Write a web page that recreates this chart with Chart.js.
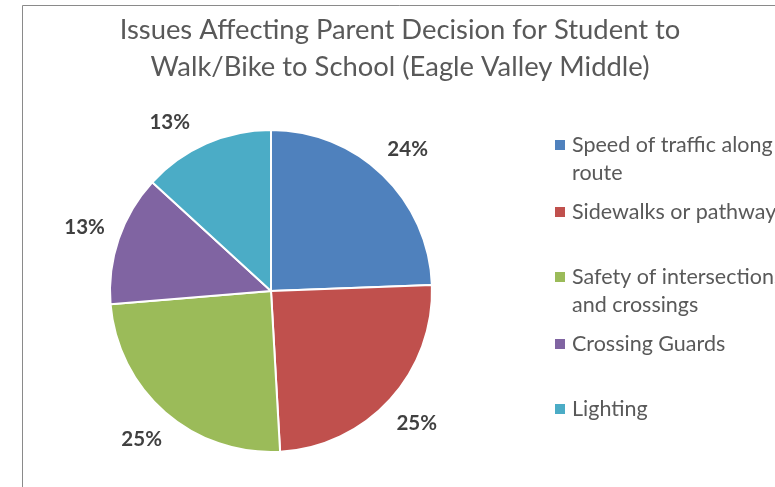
<!DOCTYPE html>
<html>
<head>
<meta charset="utf-8">
<script src="https://cdn.jsdelivr.net/npm/chart.js@4.4.1/dist/chart.umd.min.js"></script>
<style>
  html, body { margin: 0; padding: 0; background: #fff; overflow: hidden; }
  #wrap { width: 775px; height: 487px; position: relative; }
</style>
</head>
<body>
<div id="wrap"><canvas id="pie"></canvas></div>
<script>
const titleLines = ["Issues Affecting Parent Decision for Student to", "Walk/Bike to School (Eagle Valley Middle)"];
const categories = ["Speed of traffic along route", "Sidewalks or pathways", "Safety of intersections and crossings", "Crossing Guards", "Lighting"];
const shares = [24.4, 24.7, 24.6, 13.1, 13.2];
const sliceColors = ["#4F81BD", "#C0504D", "#9BBB59", "#8064A2", "#4BACC6"];

const FONT = "Lato, 'Open Sans', sans-serif";

function wrapText(ctx, text, maxWidth) {
  const words = text.split(" ");
  const lines = [];
  let line = "";
  for (const w of words) {
    const test = line ? line + " " + w : w;
    if (ctx.measureText(test).width > maxWidth && line) {
      lines.push(line);
      line = w;
    } else {
      line = test;
    }
  }
  if (line) lines.push(line);
  return lines;
}

const decorations = {
  id: "decorations",
  beforeDraw(chart) {
    const ctx = chart.ctx;
    ctx.save();
    ctx.strokeStyle = "#8a8a8a";
    ctx.lineWidth = 1;
    ctx.beginPath();
    ctx.moveTo(22.5, 490);
    ctx.lineTo(22.5, 5.5);
    ctx.lineTo(780, 5.5);
    ctx.stroke();
    ctx.restore();
  },
  afterDraw(chart) {
    const ctx = chart.ctx;
    ctx.save();
    // title
    ctx.fillStyle = "#595959";
    ctx.font = "27.4px " + FONT;
    ctx.textAlign = "center";
    ctx.textBaseline = "middle";
    titleLines.forEach((t, i) => ctx.fillText(t, 400, 30 + i * 37));

    // percentage labels outside the slices, kept below the title area
    const meta = chart.getDatasetMeta(0);
    const total = shares.reduce((a, b) => a + b, 0);
    const minY = 122;
    ctx.font = "bold 20.5px " + FONT;
    ctx.fillStyle = "#404040";
    meta.data.forEach((arc, i) => {
      const mid = (arc.startAngle + arc.endAngle) / 2;
      const r = arc.outerRadius + 36;
      let dx = Math.cos(mid) * r;
      let dy = Math.sin(mid) * r;
      if (arc.y + dy < minY) {
        dy = minY - arc.y;
        dx = Math.sign(dx) * Math.sqrt(Math.max(0, r * r - dy * dy));
      }
      ctx.fillText(Math.round(shares[i] / total * 100) + "%", arc.x + dx, arc.y + dy);
    });

    // legend
    ctx.font = "21.5px " + FONT;
    ctx.textAlign = "left";
    const itemY = [145, 212, 277, 344, 409];
    categories.forEach((c, i) => {
      ctx.fillStyle = sliceColors[i];
      ctx.fillRect(555, itemY[i] - 5, 10, 10);
      ctx.fillStyle = "#595959";
      wrapText(ctx, c, 235).forEach((ln, j) => ctx.fillText(ln, 572, itemY[i] + j * 28));
    });
    ctx.restore();
  }
};

new Chart(document.getElementById("pie"), {
  type: "pie",
  data: {
    labels: categories,
    datasets: [{
      data: shares,
      backgroundColor: sliceColors,
      borderColor: "#ffffff",
      borderWidth: 2,
    }],
  },
  options: {
    responsive: true,
    maintainAspectRatio: false,
    animation: false,
    layout: { padding: { left: 109, right: 342, top: 129, bottom: 34 } },
    plugins: {
      legend: { display: false },
      title: { display: false },
      tooltip: { enabled: false },
    },
  },
  plugins: [decorations],
});
</script>
</body>
</html>
